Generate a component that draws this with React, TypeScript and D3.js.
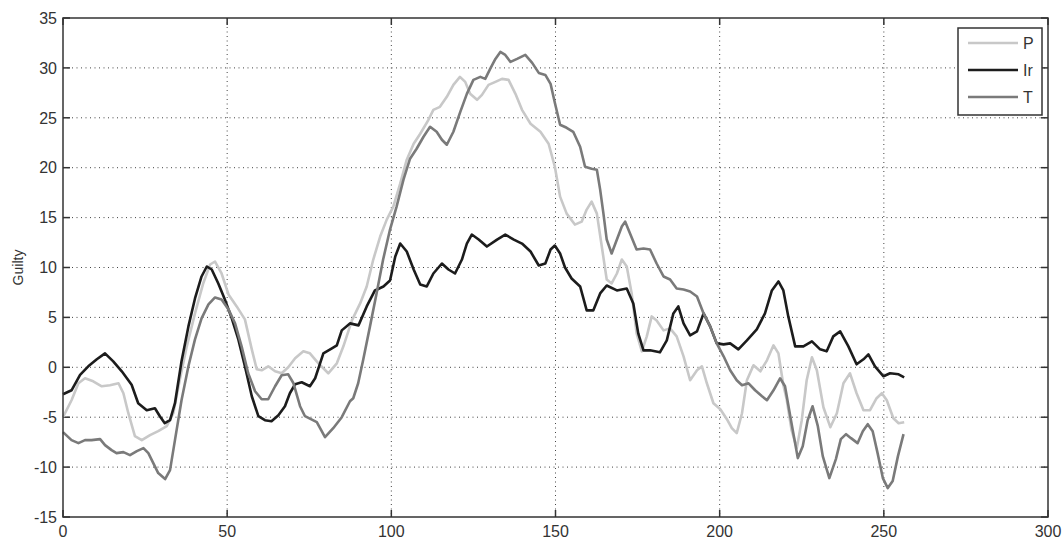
import React from "react";
import * as d3 from "d3";

// series (x = sample index, y = value)
const pX = [0, 2.6, 4.7, 6.7, 9.2, 11.8, 14.3, 16.9, 18.4, 19.9, 21.9, 24, 26.5, 29, 31.6, 33.6, 35.6, 37.7, 40.2, 42.7, 44.8, 46.3, 48.3, 50.4, 52.9, 55.4, 57.5, 59, 60.5, 62.5, 64.6, 66.6, 68.6, 70.7, 73.2, 75.2, 77.8, 80.8, 83.4, 85.4, 88, 90.5, 92.5, 94.5, 96.6, 98.6, 100.6, 102.7, 104.7, 106.8, 108.8, 111.3, 112.8, 114.8, 116.9, 118.9, 120.9, 122.5, 124, 126.1, 127.6, 129.6, 131.7, 133.7, 135.7, 137.8, 139.8, 142.4, 145.4, 147.9, 149.8, 151.4, 153.4, 155.9, 158, 159.5, 161, 162.6, 164.1, 165.6, 167.1, 168.7, 170.2, 171.7, 173.2, 174.7, 176.3, 177.8, 179.3, 180.8, 182.9, 184.9, 186.9, 189, 191, 193.1, 194.6, 196.1, 198.1, 200.2, 202.2, 203.7, 205.2, 206.8, 208.3, 210.3, 212.4, 214.4, 216.4, 217.9, 219.4, 220.4, 221.9, 223.5, 225, 226.5, 228.1, 229.6, 231.6, 233.7, 235.7, 237.7, 239.7, 241.7, 243.8, 245.8, 247.8, 249.4, 250.9, 252.9, 254.5, 256.2];
const pY = [-5, -3.3, -1.6, -1.1, -1.4, -1.9, -1.8, -1.6, -2.6, -4.6, -6.9, -7.3, -6.8, -6.4, -5.9, -4.6, -1.2, 2.1, 5.4, 8.4, 10.3, 10.6, 9.4, 7.3, 6.1, 4.8, 1.8, -0.2, -0.3, 0.1, -0.4, -0.6, 0, 0.9, 1.6, 1.4, 0.4, -0.6, 0.4, 2.1, 4.7, 6.4, 8.1, 10.8, 13.1, 14.8, 16.1, 18.4, 20.8, 22.4, 23.4, 24.8, 25.8, 26.1, 27.1, 28.3, 29.1, 28.6, 27.4, 26.8, 27.3, 28.3, 28.6, 28.9, 28.8, 27.4, 25.8, 24.4, 23.6, 22.4, 20.1, 17.1, 15.4, 14.3, 14.6, 15.8, 16.6, 15.4, 12.1, 8.8, 8.4, 9.4, 10.8, 10.1, 7.4, 3.4, 1.6, 3.1, 5.1, 4.7, 3.7, 3.9, 3.1, 1.1, -1.3, -0.3, 0.1, -1.6, -3.6, -4.2, -5.2, -6.1, -6.6, -4.6, -1.3, 0.2, -0.4, 0.7, 2.2, 1.4, -1.8, -3.2, -6.3, -8.1, -5.3, -1.3, 1.0, -0.3, -4.0, -6.0, -4.6, -1.6, -0.6, -2.6, -4.3, -4.3, -3.1, -2.6, -3.3, -5.1, -5.6, -5.5];

const irX = [0, 2.6, 5.2, 7.7, 10.3, 12.8, 15.3, 17.9, 20.9, 22.9, 25.5, 28, 29.5, 31, 32.6, 34.1, 36.1, 38.2, 40.2, 42.2, 43.8, 45.3, 47.3, 49.3, 51.4, 53.4, 55.4, 57.5, 59.5, 61.5, 63.5, 65.6, 67.6, 69.1, 70.7, 72.7, 75.2, 76.8, 79.3, 81.9, 83.4, 84.9, 87.4, 90, 92.5, 95, 97.6, 99.6, 101.2, 102.7, 104.7, 106.8, 108.8, 110.8, 112.8, 115.4, 117.4, 119.4, 121.5, 123, 124.5, 126.6, 129.1, 132.2, 134.7, 137.3, 139.8, 142.4, 144.9, 146.9, 148.5, 149.8, 151.4, 152.9, 154.9, 157.5, 159.5, 161.5, 163.6, 165.6, 168.7, 171.7, 173.7, 175.2, 176.8, 178.8, 181.8, 183.9, 185.9, 187.4, 189, 191, 193.1, 195.1, 197.1, 199.1, 201.2, 203.2, 205.7, 208.3, 211.3, 213.8, 215.9, 217.9, 219.4, 220.9, 223, 225.5, 228.1, 230.6, 232.6, 234.6, 236.7, 239.2, 241.7, 243.8, 245.3, 247.3, 249.9, 251.9, 254.5, 256.2];
const irY = [-2.7, -2.3, -0.75, 0.1, 0.8, 1.4, 0.6, -0.4, -1.75, -3.6, -4.3, -4.1, -4.9, -5.6, -5.3, -3.6, 0.6, 4.1, 6.9, 9.1, 10.1, 9.8, 8.4, 6.8, 4.9, 2.8, 0.1, -2.9, -4.9, -5.3, -5.4, -4.8, -3.9, -2.6, -1.7, -1.5, -1.9, -1.1, 1.4, 1.9, 2.2, 3.7, 4.4, 4.2, 6.1, 7.7, 8.1, 8.7, 11.1, 12.4, 11.6, 9.8, 8.3, 8.1, 9.4, 10.4, 9.8, 9.4, 10.8, 12.4, 13.3, 12.8, 12.1, 12.8, 13.3, 12.8, 12.4, 11.6, 10.2, 10.4, 11.8, 12.2, 11.4, 10.0, 8.9, 8.1, 5.7, 5.7, 7.4, 8.2, 7.7, 7.9, 6.4, 3.4, 1.7, 1.7, 1.5, 2.7, 5.4, 6.1, 4.4, 3.2, 3.6, 5.4, 4.1, 2.4, 2.3, 2.4, 1.8, 2.7, 3.8, 5.4, 7.7, 8.6, 7.7, 5.1, 2.1, 2.1, 2.6, 1.8, 1.6, 3.1, 3.6, 2.1, 0.3, 0.8, 1.3, 0.1, -0.9, -0.6, -0.7, -1.0];

const tX = [0, 2.6, 4.7, 6.7, 8.7, 11.3, 12.8, 14.8, 16.3, 18.4, 20.4, 22.5, 24.5, 26, 27.5, 29, 31.1, 32.6, 34.1, 36.1, 38.2, 40.2, 42.2, 44.3, 46.3, 48.3, 50.4, 52.4, 54.4, 56.4, 58.5, 60.5, 62.5, 64.6, 66.6, 68.6, 70.2, 72.2, 73.7, 77.3, 79.8, 82.3, 84.9, 87.4, 88.4, 89.9, 91.4, 93.5, 95.5, 97.5, 99.6, 101.6, 103.7, 105.7, 107.7, 109.8, 111.8, 113.8, 115.4, 116.9, 118.9, 121, 123, 125, 127.1, 128.6, 130.1, 131.7, 133.2, 134.7, 136.3, 138.3, 140.8, 142.9, 144.9, 146.9, 148.5, 149.8, 151.4, 153.4, 155.4, 157.5, 159, 161, 162.6, 163.6, 164.6, 165.6, 167.1, 168.7, 170.2, 171.2, 172.7, 174.7, 176.8, 178.8, 180.8, 182.9, 184.9, 186.9, 189, 191, 193.1, 195.1, 197.1, 199.1, 201.2, 203.2, 205.2, 206.8, 208.8, 210.8, 212.9, 214.4, 216.4, 218.4, 219.9, 221.5, 223.8, 225.3, 226.8, 228.3, 229.9, 231.4, 233.4, 235.4, 236.9, 238.5, 240, 242, 243.6, 245.1, 246.6, 248.1, 249.7, 251.2, 252.7, 254.3, 256];
const tY = [-6.5, -7.3, -7.6, -7.3, -7.3, -7.2, -7.8, -8.3, -8.6, -8.5, -8.8, -8.4, -8.1, -8.6, -9.6, -10.6, -11.2, -10.3, -7.3, -3.3, 0.1, 2.8, 4.9, 6.3, 7.0, 6.8, 5.8, 4.4, 2.1, -0.6, -2.4, -3.2, -3.2, -1.9, -0.8, -0.7, -1.6, -3.9, -4.9, -5.5, -7.0, -6.1, -5.0, -3.4, -3.1, -1.6, 0.7, 4.1, 7.4, 10.8, 13.8, 16.1, 18.8, 20.9, 21.9, 23.1, 24.1, 23.6, 22.8, 22.3, 23.6, 25.6, 27.4, 28.8, 29.1, 28.9, 29.9, 30.9, 31.6, 31.3, 30.6, 30.9, 31.3, 30.5, 29.5, 29.3, 28.4, 26.5, 24.3, 24.0, 23.6, 22.1, 20.1, 19.9, 19.8, 17.8, 15.4, 12.8, 11.4, 12.8, 14.1, 14.6, 13.4, 11.8, 11.9, 11.8, 10.4, 9.1, 8.8, 7.9, 7.8, 7.6, 7.1, 5.4, 4.1, 2.4, 1.1, -0.3, -1.3, -1.8, -1.6, -2.3, -2.9, -3.3, -2.3, -1.1, -1.9, -4.9, -9.1, -7.9, -5.3, -3.9, -5.9, -8.9, -11.1, -9.2, -7.2, -6.7, -7.1, -7.6, -6.4, -5.7, -6.4, -8.6, -11.1, -12.1, -11.4, -8.9, -6.7];

const xTicks = [0, 50, 100, 150, 200, 250, 300];
const yTicks = [-15, -10, -5, 0, 5, 10, 15, 20, 25, 30, 35];

const seriesNames = ["P", "Ir", "T"];
const seriesColors = ["#c8c8c8", "#1c1c1c", "#7a7a7a"];

const W = 1062;
const H = 541;
const margin = { left: 63, right: 14, top: 18, bottom: 24 };
const font = "'Liberation Sans Narrow', 'Liberation Sans', Arial, sans-serif";

export default function App() {
  const x = d3.scaleLinear().domain([0, 300]).range([margin.left, W - margin.right]);
  const y = d3.scaleLinear().domain([-15, 35]).range([H - margin.bottom, margin.top]);
  const line = d3.line<[number, number]>().x(d => x(d[0])).y(d => y(d[1]));

  const series = [
    d3.zip(pX, pY) as [number, number][],
    d3.zip(irX, irY) as [number, number][],
    d3.zip(tX, tY) as [number, number][],
  ];

  const x0 = x(0), x1 = x(300), y0 = y(-15), y1 = y(35);
  const tick = 7;
  const axisColor = "#333";

  return (
    <svg width={W} height={H} style={{ position: "absolute", left: 0, top: 0, background: "#fff" }}>
      <rect x={0} y={0} width={W} height={H} fill="#fff" />
      {/* grid */}
      <g stroke="#444" strokeWidth={1} strokeDasharray="1,3.5">
        {xTicks.slice(1, -1).map(t => (
          <line key={"gx" + t} x1={x(t)} x2={x(t)} y1={y1} y2={y0} />
        ))}
        {yTicks.slice(1, -1).map(t => (
          <line key={"gy" + t} x1={x0} x2={x1} y1={y(t)} y2={y(t)} />
        ))}
      </g>
      {/* ticks, inward on all four sides */}
      <g stroke={axisColor} strokeWidth={1.5}>
        {xTicks.map(t => (
          <g key={"tx" + t}>
            <line x1={x(t)} x2={x(t)} y1={y0} y2={y0 - tick} />
            <line x1={x(t)} x2={x(t)} y1={y1} y2={y1 + tick} />
          </g>
        ))}
        {yTicks.map(t => (
          <g key={"ty" + t}>
            <line x1={x0} x2={x0 + tick} y1={y(t)} y2={y(t)} />
            <line x1={x1} x2={x1 - tick} y1={y(t)} y2={y(t)} />
          </g>
        ))}
      </g>
      {/* lines */}
      <g fill="none" strokeWidth={2.6} strokeLinejoin="round">
        {series.map((s, i) => (
          <path key={seriesNames[i]} d={line(s) || ""} stroke={seriesColors[i]} />
        ))}
      </g>
      {/* frame */}
      <rect x={x0} y={y1} width={x1 - x0} height={y0 - y1} fill="none" stroke={axisColor} strokeWidth={1.5} />
      {/* tick labels */}
      <g fontFamily={font} fontSize={16} fill="#333">
        {yTicks.map(t => (
          <text key={"ly" + t} x={x0 - 6} y={y(t)} dy="0.36em" textAnchor="end">{t}</text>
        ))}
        {xTicks.map(t => (
          <text key={"lx" + t} x={x(t)} y={y0 + 20} textAnchor="middle">{t}</text>
        ))}
      </g>
      <text
        transform={`translate(23,${(y0 + y1) / 2}) rotate(-90)`}
        textAnchor="middle"
        fontFamily={font}
        fontSize={14}
        fill="#333"
      >
        Guilty
      </text>
      {/* legend */}
      <g>
        <rect x={958} y={28} width={84} height={87} fill="#fff" stroke={axisColor} strokeWidth={1.5} />
        {seriesNames.map((n, i) => (
          <g key={"lg" + n}>
            <line x1={968} x2={1018} y1={43 + i * 27} y2={43 + i * 27} stroke={seriesColors[i]} strokeWidth={2.6} />
            <text x={1023} y={43 + i * 27} dy="0.36em" fontFamily={font} fontSize={16} fill="#333">{n}</text>
          </g>
        ))}
      </g>
    </svg>
  );
}
